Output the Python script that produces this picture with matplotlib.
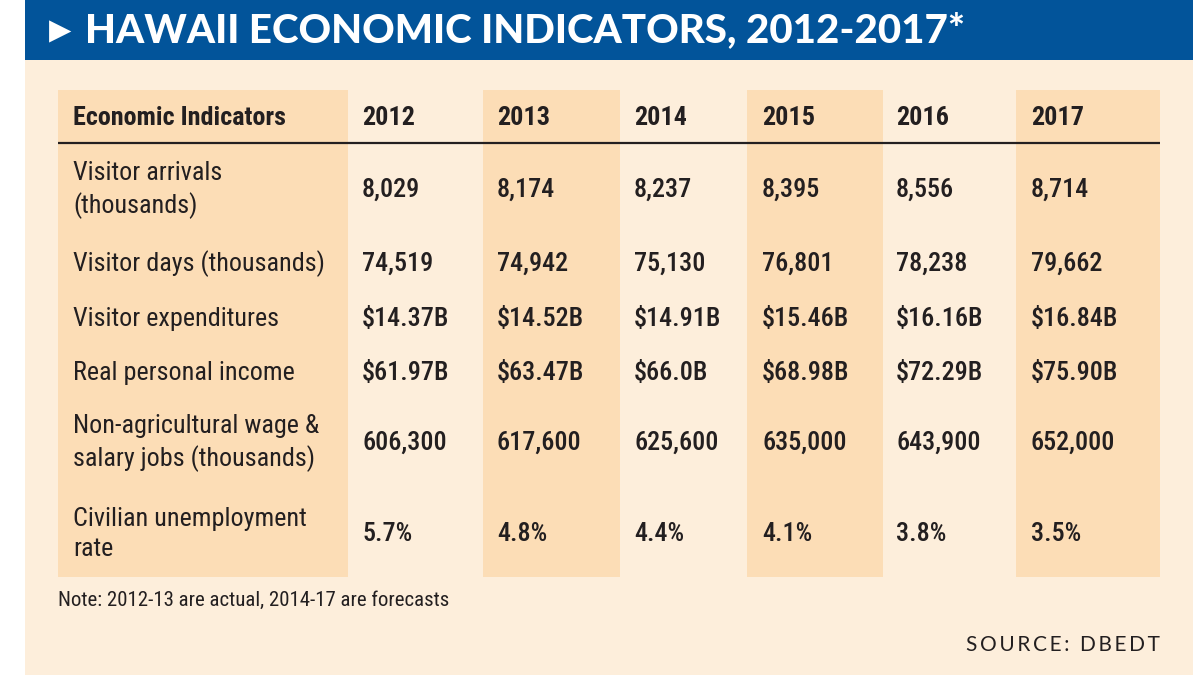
import matplotlib
matplotlib.use("Agg")
import matplotlib.pyplot as plt
from matplotlib import font_manager as fm
from matplotlib.patches import Rectangle

# ---------------- data ----------------
title = "HAWAII ECONOMIC INDICATORS, 2012-2017*"
header_label = "Economic Indicators"
years = ["2012", "2013", "2014", "2015", "2016", "2017"]
indicators = [
    "Visitor arrivals\n(thousands)",
    "Visitor days (thousands)",
    "Visitor expenditures",
    "Real personal income",
    "Non-agricultural wage &\nsalary jobs (thousands)",
    "Civilian unemployment\nrate",
]
v2012 = ["8,029", "74,519", "$14.37B", "$61.97B", "606,300", "5.7%"]
v2013 = ["8,174", "74,942", "$14.52B", "$63.47B", "617,600", "4.8%"]
v2014 = ["8,237", "75,130", "$14.91B", "$66.0B", "625,600", "4.4%"]
v2015 = ["8,395", "76,801", "$15.46B", "$68.98B", "635,000", "4.1%"]
v2016 = ["8,556", "78,238", "$16.16B", "$72.29B", "643,900", "3.8%"]
v2017 = ["8,714", "79,662", "$16.84B", "$75.90B", "652,000", "3.5%"]
columns = [v2012, v2013, v2014, v2015, v2016, v2017]
note = "Note: 2012-13 are actual, 2014-17 are forecasts"
source = "SOURCE: DBEDT"

# ---------------- fonts ----------------
entries = fm.fontManager.ttflist
names = {e.name for e in entries}


def pick_condensed():
    for n in ["Roboto Condensed", "Open Sans Condensed", "Liberation Sans Narrow",
              "Noto Sans Condensed", "DejaVu Sans Condensed", "Noto Sans SemiCondensed"]:
        if n in names:
            return n, "normal"
    for n in ["Noto Sans", "Roboto", "Open Sans", "DejaVu Sans", "Liberation Sans"]:
        for e in entries:
            if e.name == n and str(e.stretch) in ("condensed", "extra-condensed", "semi-condensed"):
                return n, "condensed"
    return "Roboto" if "Roboto" in names else "DejaVu Sans", "normal"


cond_family, cond_stretch = pick_condensed()
title_family = "Lato" if "Lato" in names else "DejaVu Sans"
plain_family = "Lato" if "Lato" in names else "DejaVu Sans"

# ---------------- colours ----------------
BLUE = "#02549A"
CREAM = "#FDEEDB"
PEACH = "#FCDDB6"
INK = "#231F20"

W, H = 1200, 675
fig = plt.figure(figsize=(12, 6.75), dpi=100)
fig.patch.set_facecolor("white")
ax = fig.add_axes([0, 0, 1, 1])
ax.set_xlim(0, W)
ax.set_ylim(H, 0)
ax.axis("off")

# banner + panel
ax.add_patch(Rectangle((25, 0), 1168, 60, facecolor=BLUE, edgecolor="none"))
ax.add_patch(Rectangle((25, 60), 1168, 615, facecolor=CREAM, edgecolor="none"))

# highlighted bands
band_top, band_bot = 90, 577
ax.add_patch(Rectangle((58, band_top), 290, band_bot - band_top, facecolor=PEACH, edgecolor="none"))
band_x = {1: (483, 620), 3: (747, 883), 5: (1016, 1160)}
for i, (x0, x1) in band_x.items():
    ax.add_patch(Rectangle((x0, band_top), x1 - x0, band_bot - band_top, facecolor=PEACH, edgecolor="none"))

# header rule
ax.plot([58, 1160], [143, 143], color=INK, lw=1.6, solid_capstyle="butt")

renderer = fig.canvas.get_renderer()

# title
ax.text(49, 31, "\u25B6", color="white", fontsize=21, va="center", ha="left",
        family="DejaVu Sans")
tt = ax.text(85, 31, title, color="white", fontsize=30, fontweight="black",
             family=title_family, va="center", ha="left")
bb = tt.get_window_extent(renderer=renderer)
tt.set_fontsize(30 * 880 / bb.width)

# table fonts
body_size = 24
probe = ax.text(0, 0, "Non-agricultural wage &", fontsize=body_size,
                family=cond_family, stretch=cond_stretch)
pw = probe.get_window_extent(renderer=renderer).width
probe.remove()
if pw > 246:
    body_size = body_size * 246 / pw

col_x = [362, 497, 634, 762, 896, 1031]
row_y = [190, 264, 319, 373, 443, 534]
header_y = 118

ax.text(73, header_y, header_label, fontsize=body_size, fontweight="bold",
        family=cond_family, stretch=cond_stretch, color=INK, va="center", ha="left")
for x, yr in zip(col_x, years):
    ax.text(x, header_y, yr, fontsize=body_size, fontweight="bold",
            family=cond_family, stretch=cond_stretch, color=INK, va="center", ha="left")

for y, lab in zip(row_y, indicators):
    ax.text(73, y, lab, fontsize=body_size, family=cond_family, stretch=cond_stretch,
            color=INK, va="center", ha="left", linespacing=1.32)

for x, col in zip(col_x, columns):
    for y, val in zip(row_y, col):
        ax.text(x, y, val, fontsize=body_size, fontweight="medium",
                family=cond_family, stretch=cond_stretch, color=INK,
                va="center", ha="left")

# note and source
nt = ax.text(58, 600, note, fontsize=body_size * 0.86, family=cond_family,
             stretch=cond_stretch, color=INK, va="center", ha="left")
nw = nt.get_window_extent(renderer=renderer).width
if nw > 392:
    nt.set_fontsize(nt.get_fontsize() * 392 / nw)
st = ax.text(1160, 645, "\u2009".join(source), fontsize=15, family=plain_family,
             color=INK, va="center", ha="right")
sw = st.get_window_extent(renderer=renderer).width
if sw > 194:
    st.set_fontsize(15 * 194 / sw)

fig.savefig("out.png", dpi=100, facecolor=fig.get_facecolor())
